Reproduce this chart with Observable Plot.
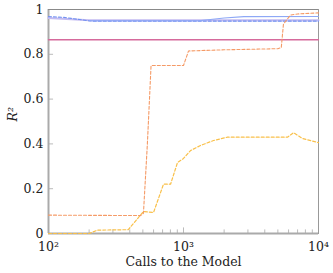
<!DOCTYPE html>
<html><head><meta charset="utf-8">
<script src="https://cdn.jsdelivr.net/npm/d3@7"></script>
<script src="https://cdn.jsdelivr.net/npm/@observablehq/plot@0.6"></script>
<style>body{margin:0;background:#fff} svg text{font-family:"DejaVu Serif",serif !important;}</style>
</head><body><div id="c"></div>
<script>
const orangeX = [100, 480, 505, 540, 575, 1000, 1090, 2000, 5000, 5300, 5500, 6200, 7000, 10000];
const orangeY = [0.082, 0.08, 0.09, 0.4, 0.75, 0.75, 0.815, 0.82, 0.825, 0.83, 0.935, 0.975, 0.98, 0.985];
const yellowX = [100, 200, 230, 390, 505, 600, 711, 802, 903, 1000, 1127, 1336, 1668, 2118, 5890, 6530, 7610, 10000];
const yellowY = [0.0, 0.0, 0.015, 0.017, 0.098, 0.094, 0.22, 0.22, 0.317, 0.335, 0.37, 0.393, 0.415, 0.43, 0.43, 0.45, 0.424, 0.406];
const blueDashX = [100, 130, 170, 210, 1000, 10000];
const blueDashY = [0.968, 0.965, 0.955, 0.948, 0.948, 0.948];
const lavenderX = [100, 200, 10000];
const lavenderY = [0.962, 0.952, 0.952];
const blueX = [200, 1300, 2000, 2800, 10000];
const blueY = [0.95, 0.95, 0.962, 0.968, 0.969];
const pinkX = [100, 10000];
const pinkY = [0.865, 0.865];
const topX = [100, 10000];
const topY = [1, 1];
const xTicks = [100, 1000, 10000];
const xTickLabels = ["10²", "10³", "10⁴"];
const yTicks = [0, 0.2, 0.4, 0.6, 0.8, 1];
const yTickLabels = ["0", "0.2", "0.4", "0.6", "0.8", "1"];
const minorX = [200,300,400,500,600,700,800,900,2000,3000,4000,5000,6000,7000,8000,9000];

const pts = (xs, ys) => xs.map((x, i) => ({x, y: ys[i]}));
const yLab = Object.fromEntries(yTicks.map((t, i) => [t, yTickLabels[i]]));
const F = "DejaVu Serif";
const chart = Plot.plot({
  width: 333, height: 273,
  marginLeft: 48, marginRight: 15, marginTop: 9, marginBottom: 40,
  style: {background: "#fff", color: "#222", fontFamily: F},
  x: {type: "log", domain: [100, 10000], axis: null},
  y: {domain: [0, 1], axis: null},
  marks: [
    Plot.ruleX(minorX, {y1: 0, y2: 0.016, stroke: "#aaa", strokeWidth: 0.8}),
    Plot.ruleX(xTicks, {y1: 0, y2: 0.025, stroke: "#aaa", strokeWidth: 0.8}),
    Plot.ruleY(yTicks, {x1: 100, x2: 109, stroke: "#aaa", strokeWidth: 0.8}),
    Plot.frame({stroke: "#999", strokeWidth: 1}),
    Plot.ruleX([100], {stroke: "#aaa", strokeWidth: 2}),
    Plot.ruleY([0], {stroke: "#aaa", strokeWidth: 2}),
    Plot.line(pts(topX, topY), {x: "x", y: "y", stroke: "#888", strokeWidth: 1, strokeDasharray: "1,1"}),
    Plot.line(pts(pinkX, pinkY), {x: "x", y: "y", stroke: "#d66a9c", strokeWidth: 1.3}),
    Plot.line(pts(lavenderX, lavenderY), {x: "x", y: "y", stroke: "#c4bcf2", strokeWidth: 2}),
    Plot.line(pts(blueDashX, blueDashY), {x: "x", y: "y", stroke: "#7090f0", strokeWidth: 1.1, strokeDasharray: "3,2"}),
    Plot.line(pts(blueX, blueY), {x: "x", y: "y", stroke: "#8ea8f6", strokeWidth: 1.1}),
    Plot.line(pts(yellowX, yellowY), {x: "x", y: "y", stroke: "#f9c04a", strokeWidth: 1.2, strokeDasharray: "3,2"}),
    Plot.line(pts(orangeX, orangeY), {x: "x", y: "y", stroke: "#f59a66", strokeWidth: 1.1, strokeDasharray: "3,2"}),
    Plot.text(xTicks, {x: d => d, frameAnchor: "bottom", dy: 17, text: (d, i) => xTickLabels[i], fontSize: 12.5, fill: "#222", fontFamily: F}),
    Plot.text(yTicks, {y: d => d, frameAnchor: "left", dx: -5, textAnchor: "end", text: d => yLab[d], fontSize: 12.5, fill: "#222", fontFamily: F}),
    Plot.text(["Calls to the Model"], {frameAnchor: "bottom", dy: 32, fontSize: 12.5, fill: "#222", fontFamily: F}),
    Plot.text(["R²"], {frameAnchor: "left", dx: -36, rotate: -90, fontStyle: "italic", fontSize: 12.5, fill: "#222", fontFamily: F})
  ]
});
document.getElementById("c").appendChild(chart);
</script>
</body></html>
